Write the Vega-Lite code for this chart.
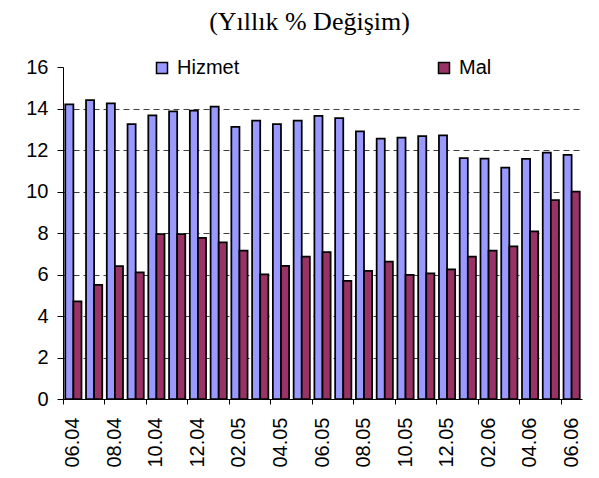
{
  "$schema": "https://vega.github.io/schema/vega-lite/v6.json",
  "autosize": "none",
  "width": 519,
  "height": 332,
  "padding": {"left": 63, "top": 67, "right": 17, "bottom": 79},
  "background": "white",
  "title": {"text": "(Yıllık % Değişim)", "font": "Liberation Serif", "fontSize": 26, "fontWeight": "normal", "color": "black", "offset": 22, "dx": -13},
  "config": {"view": {"stroke": null}},
  "data": {"values": [
    {"ay": "06.04", "seri": "Hizmet", "deger": 14.2}, {"ay": "06.04", "seri": "Mal", "deger": 4.7},
    {"ay": "07.04", "seri": "Hizmet", "deger": 14.4}, {"ay": "07.04", "seri": "Mal", "deger": 5.5},
    {"ay": "08.04", "seri": "Hizmet", "deger": 14.25}, {"ay": "08.04", "seri": "Mal", "deger": 6.4},
    {"ay": "09.04", "seri": "Hizmet", "deger": 13.25}, {"ay": "09.04", "seri": "Mal", "deger": 6.1},
    {"ay": "10.04", "seri": "Hizmet", "deger": 13.67}, {"ay": "10.04", "seri": "Mal", "deger": 7.95},
    {"ay": "11.04", "seri": "Hizmet", "deger": 13.86}, {"ay": "11.04", "seri": "Mal", "deger": 7.95},
    {"ay": "12.04", "seri": "Hizmet", "deger": 13.9}, {"ay": "12.04", "seri": "Mal", "deger": 7.76},
    {"ay": "01.05", "seri": "Hizmet", "deger": 14.09}, {"ay": "01.05", "seri": "Mal", "deger": 7.55},
    {"ay": "02.05", "seri": "Hizmet", "deger": 13.12}, {"ay": "02.05", "seri": "Mal", "deger": 7.15},
    {"ay": "03.05", "seri": "Hizmet", "deger": 13.41}, {"ay": "03.05", "seri": "Mal", "deger": 6.01},
    {"ay": "04.05", "seri": "Hizmet", "deger": 13.25}, {"ay": "04.05", "seri": "Mal", "deger": 6.41},
    {"ay": "05.05", "seri": "Hizmet", "deger": 13.41}, {"ay": "05.05", "seri": "Mal", "deger": 6.86},
    {"ay": "06.05", "seri": "Hizmet", "deger": 13.64}, {"ay": "06.05", "seri": "Mal", "deger": 7.08},
    {"ay": "07.05", "seri": "Hizmet", "deger": 13.54}, {"ay": "07.05", "seri": "Mal", "deger": 5.69},
    {"ay": "08.05", "seri": "Hizmet", "deger": 12.9}, {"ay": "08.05", "seri": "Mal", "deger": 6.18},
    {"ay": "09.05", "seri": "Hizmet", "deger": 12.55}, {"ay": "09.05", "seri": "Mal", "deger": 6.62},
    {"ay": "10.05", "seri": "Hizmet", "deger": 12.6}, {"ay": "10.05", "seri": "Mal", "deger": 5.98},
    {"ay": "11.05", "seri": "Hizmet", "deger": 12.67}, {"ay": "11.05", "seri": "Mal", "deger": 6.06},
    {"ay": "12.05", "seri": "Hizmet", "deger": 12.71}, {"ay": "12.05", "seri": "Mal", "deger": 6.25},
    {"ay": "01.06", "seri": "Hizmet", "deger": 11.61}, {"ay": "01.06", "seri": "Mal", "deger": 6.86},
    {"ay": "02.06", "seri": "Hizmet", "deger": 11.58}, {"ay": "02.06", "seri": "Mal", "deger": 7.15},
    {"ay": "03.06", "seri": "Hizmet", "deger": 11.15}, {"ay": "03.06", "seri": "Mal", "deger": 7.36},
    {"ay": "04.06", "seri": "Hizmet", "deger": 11.57}, {"ay": "04.06", "seri": "Mal", "deger": 8.08},
    {"ay": "05.06", "seri": "Hizmet", "deger": 11.87}, {"ay": "05.06", "seri": "Mal", "deger": 9.59},
    {"ay": "06.06", "seri": "Hizmet", "deger": 11.77}, {"ay": "06.06", "seri": "Mal", "deger": 9.99}
  ]},
  "mark": {"type": "bar", "stroke": "black", "strokeWidth": 1.75},
  "encoding": {
    "x": {
      "field": "ay", "type": "ordinal", "sort": null,
      "scale": {"paddingInner": 0, "paddingOuter": 0},
      "axis": {
        "title": null,
        "values": ["06.04", "08.04", "10.04", "12.04", "02.05", "04.05", "06.05", "08.05", "10.05", "12.05", "02.06", "04.06", "06.06"],
        "bandPosition": 0,
        "labelAngle": -90,
        "labelFont": "Liberation Sans",
        "labelFontSize": 20,
        "labelColor": "black",
        "labelPadding": 13,
        "tickSize": 5,
        "tickColor": "black",
        "domainColor": "black",
        "grid": false
      }
    },
    "xOffset": {"field": "seri", "type": "nominal", "scale": {"paddingInner": 0, "paddingOuter": 0.28}},
    "y": {
      "field": "deger", "type": "quantitative",
      "scale": {"domain": [0, 16]},
      "axis": {
        "title": null,
        "values": [0, 2, 4, 6, 8, 10, 12, 14, 16],
        "labelFont": "Liberation Sans",
        "labelFontSize": 20,
        "labelColor": "black",
        "labelPadding": 9,
        "tickSize": 6,
        "tickColor": "black",
        "domainColor": "black",
        "grid": true,
        "gridColor": "#404040",
        "gridDash": [6, 4],
        "gridOpacity": {"condition": {"test": "datum.value === 16 || datum.value === 0", "value": 0}, "value": 1}
      }
    },
    "color": {
      "field": "seri", "type": "nominal",
      "scale": {"domain": ["Hizmet", "Mal"], "range": ["#9999FF", "#993366"]},
      "legend": {
        "title": null,
        "orient": "none",
        "legendX": 89,
        "legendY": -9,
        "direction": "horizontal",
        "padding": 0,
        "columnPadding": 194,
        "symbolType": "square",
        "symbolSize": 121,
        "symbolStrokeColor": "black",
        "symbolStrokeWidth": 1.5,
        "symbolOpacity": 1,
        "labelFont": "Liberation Sans",
        "labelFontSize": 20,
        "labelColor": "black",
        "labelOffset": 5
      }
    }
  }
}
